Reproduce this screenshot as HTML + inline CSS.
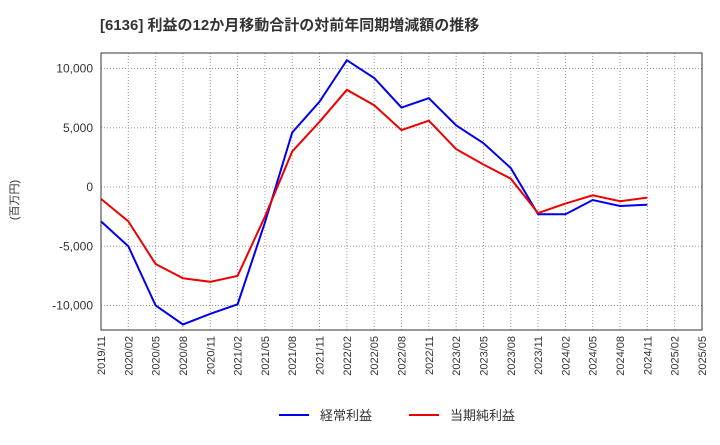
<!DOCTYPE html>
<html><head><meta charset="utf-8"><style>
body{margin:0;background:#fff;font-family:"Liberation Sans","Noto Sans CJK JP",sans-serif;}
svg text{font-family:"Liberation Sans","Noto Sans CJK JP",sans-serif;}
</style></head><body>
<svg id="chart" width="720" height="440">
<text x="100" y="30" font-size="15" font-weight="bold" fill="#333">[6136]  利益の12か月移動合計の対前年同期増減額の推移</text>
<text transform="translate(18,200) rotate(-90)" font-size="11" fill="#333" text-anchor="middle">(百万円)</text>
<g id="grid"></g><g id="marks"></g><g id="axes"></g>
<g>
<line x1="279" y1="415" x2="309" y2="415" stroke="#0000ee" stroke-width="2"/>
<text x="320" y="420" font-size="13" fill="#333">経常利益</text>
<line x1="409" y1="415" x2="439" y2="415" stroke="#ee0000" stroke-width="2"/>
<text x="450" y="420" font-size="13" fill="#333">当期純利益</text>
</g>
</svg>
<script>
const categories=["2019/11","2020/02","2020/05","2020/08","2020/11","2021/02","2021/05","2021/08","2021/11","2022/02","2022/05","2022/08","2022/11","2023/02","2023/05","2023/08","2023/11","2024/02","2024/05","2024/08","2024/11","2025/02","2025/05"];
const ordinaryProfit=[-2900,-5000,-10000,-11600,-10700,-9900,-3000,4600,7200,10700,9200,6700,7500,5200,3700,1600,-2300,-2300,-1100,-1600,-1500];
const netProfit=[-1000,-2900,-6500,-7700,-8000,-7500,-2500,3000,5500,8200,6900,4800,5600,3200,1900,700,-2200,-1400,-700,-1200,-900];
const yTicks=[10000,5000,0,-5000,-10000];
const yTickLabels=["10,000","5,000","0","-5,000","-10,000"];
const L=101,R=702,T=53,B=330;
const NS="http://www.w3.org/2000/svg";
function xs(i){return L+i*(R-L)/(categories.length-1);}
function ys(v){return 187-v*59.25/5000;}
function mk(tag,attrs,parent){const e=document.createElementNS(NS,tag);for(const k in attrs)e.setAttribute(k,attrs[k]);document.getElementById(parent).appendChild(e);return e;}
const frame=mk('rect',{x:L,y:T,width:R-L,height:B-T,fill:'none',stroke:'#333','stroke-width':1},'axes');


categories.forEach((c,i)=>{
  const g=mk('line',{x1:xs(i),x2:xs(i),y1:T,y2:B,stroke:'#999','stroke-dasharray':'1,2'},'grid');
  
  
  const t=mk('text',{transform:`translate(${xs(i)+4},${B+6}) rotate(-90)`,'font-size':11,fill:'#333','text-anchor':'end'},'axes');
  t.textContent=c;
  
  
});
yTicks.forEach((v,i)=>{
  const g=mk('line',{x1:L,x2:R,y1:ys(v),y2:ys(v),stroke:'#999','stroke-dasharray':'1,2'},'grid');
  
  
  const t=mk('text',{x:L-8,y:ys(v)+4,'font-size':12,fill:'#333','text-anchor':'end'},'axes');
  t.textContent=yTickLabels[i];
  
  
});
function line(data,color,name){
  const p=mk('polyline',{points:data.map((v,i)=>xs(i)+','+ys(v)).join(' '),fill:'none',stroke:color,'stroke-width':2},'marks');
  
  
}
line(ordinaryProfit,'#0000ee','ordinary-profit-line');
line(netProfit,'#ee0000','net-profit-line');
</script>
</body></html>
